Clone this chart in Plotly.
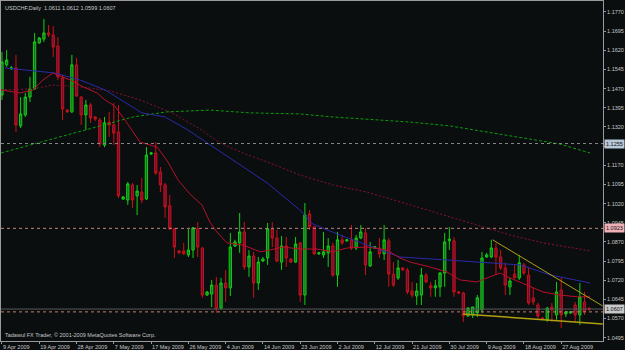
import plotly.graph_objects as go

# ---------------- data ----------------
bar_index = list(range(127))
opens = [1.1445,1.1563,1.1547,1.1551,1.1324,1.1367,1.1437,1.1469,1.1649,1.1664,
         1.1688,1.1680,1.1637,1.1512,1.1386,1.1379,1.1563,1.1437,1.1367,1.1406,
         1.1359,1.1347,1.1249,1.1339,1.1328,1.1300,1.1038,1.1034,1.1093,1.1050,
         1.1065,1.1038,1.1214,1.1218,1.1144,1.1093,1.1011,1.0921,1.0835,1.0835,
         1.0819,1.0838,1.0921,1.0846,1.0662,1.0666,1.0701,1.0611,1.0709,1.0690,
         1.0854,1.0866,1.0909,1.0772,1.0815,1.0709,1.0795,1.0807,1.0921,1.0885,
         1.0791,1.0854,1.0803,1.0791,1.0866,1.0662,1.0979,1.0929,1.0823,1.0819,
         1.0827,1.0854,1.0740,1.0878,1.0874,1.0878,1.0846,1.0885,1.0905,1.0776,
         1.0846,1.0846,1.0823,1.0874,1.0744,1.0729,1.0768,1.0760,1.0678,1.0658,
         1.0662,1.0740,1.0698,1.0690,1.0694,1.0748,1.0874,1.0874,1.0674,1.0670,
         1.0580,1.0584,1.0592,1.0604,1.0811,1.0811,1.0846,1.0811,1.0768,1.0694,
         1.0744,1.0729,1.0780,1.0740,1.0651,1.0623,1.0572,1.0565,1.0615,1.0584,
         1.0682,1.0588,1.0592,1.0623,1.0584,1.0635,1.0611]
highs = [1.1613,1.1621,1.1559,1.1602,1.1437,1.1453,1.1516,1.1688,1.1672,1.1743,
         1.1719,1.1715,1.1672,1.1523,1.1390,1.1602,1.1590,1.1441,1.1426,1.1414,
         1.1363,1.1355,1.1359,1.1379,1.1414,1.1406,1.1050,1.1105,1.1101,1.1093,
         1.1120,1.1241,1.1222,1.1261,1.1163,1.1101,1.1054,1.0925,1.0838,1.0866,
         1.0921,1.0928,1.0948,1.0850,1.0678,1.0721,1.0733,1.0729,1.0760,1.0905,
         1.0878,1.0983,1.0948,1.0838,1.0831,1.0811,1.0811,1.0944,1.0948,1.0917,
         1.0893,1.0889,1.0807,1.0889,1.0870,1.1022,1.0995,1.0932,1.0831,1.0909,
         1.0885,1.0866,1.0909,1.0897,1.0881,1.0936,1.0897,1.0936,1.0925,1.0870,
         1.0854,1.0885,1.0936,1.0885,1.0791,1.0799,1.0772,1.0768,1.0713,1.0709,
         1.0768,1.0748,1.0713,1.0721,1.0752,1.0905,1.0928,1.0889,1.0678,1.0674,
         1.0615,1.0615,1.0662,1.0831,1.0827,1.0878,1.0866,1.0838,1.0788,1.0729,
         1.0780,1.0819,1.0788,1.0772,1.0690,1.0631,1.0576,1.0615,1.0631,1.0713,
         1.0729,1.0600,1.0600,1.0635,1.0709,1.0674,1.0612]
lows = [1.1426,1.1555,1.1543,1.1300,1.1316,1.1359,1.1418,1.1465,1.1645,1.1653,
        1.1672,1.1594,1.1504,1.1347,1.1375,1.1375,1.1437,1.1328,1.1308,1.1336,
        1.1343,1.1241,1.1241,1.1281,1.1249,1.1042,1.1034,1.1015,1.1003,1.0975,
        1.1022,1.1034,1.1210,1.1132,1.1065,1.0964,1.0917,1.0807,1.0823,1.0819,
        1.0811,1.0807,1.0811,1.0651,1.0658,1.0615,1.0592,1.0604,1.0635,1.0658,
        1.0850,1.0827,1.0760,1.0733,1.0651,1.0682,1.0791,1.0780,1.0850,1.0791,
        1.0760,1.0772,1.0788,1.0788,1.0635,1.0623,1.0917,1.0819,1.0819,1.0807,
        1.0772,1.0733,1.0694,1.0858,1.0870,1.0838,1.0838,1.0881,1.0740,1.0772,
        1.0842,1.0807,1.0799,1.0694,1.0694,1.0721,1.0756,1.0666,1.0651,1.0623,
        1.0623,1.0709,1.0655,1.0655,1.0655,1.0694,1.0838,1.0655,1.0666,1.0557,
        1.0576,1.0572,1.0576,1.0592,1.0807,1.0807,1.0740,1.0760,1.0662,1.0662,
        1.0729,1.0721,1.0740,1.0623,1.0623,1.0565,1.0565,1.0557,1.0557,1.0565,
        1.0533,1.0576,1.0588,1.0557,1.0545,1.0584,1.0599]
closes = [1.1574,1.1582,1.1551,1.1328,1.1371,1.1437,1.1469,1.1653,1.1668,1.1688,
          1.1680,1.1633,1.1516,1.1390,1.1379,1.1563,1.1441,1.1367,1.1406,1.1355,
          1.1351,1.1253,1.1336,1.1328,1.1296,1.1050,1.1046,1.1097,1.1034,1.1069,
          1.1034,1.1210,1.1218,1.1140,1.1093,1.1007,1.0921,1.0850,1.0827,1.0823,
          1.0838,1.0925,1.0850,1.0662,1.0674,1.0701,1.0608,1.0709,1.0690,1.0850,
          1.0870,1.0909,1.0772,1.0815,1.0709,1.0791,1.0803,1.0921,1.0885,1.0795,
          1.0854,1.0807,1.0791,1.0862,1.0662,1.0975,1.0929,1.0823,1.0827,1.0831,
          1.0854,1.0740,1.0878,1.0866,1.0878,1.0846,1.0885,1.0909,1.0780,1.0831,
          1.0850,1.0823,1.0878,1.0744,1.0701,1.0768,1.0760,1.0674,1.0662,1.0678,
          1.0740,1.0713,1.0690,1.0698,1.0748,1.0870,1.0881,1.0674,1.0670,1.0580,
          1.0611,1.0615,1.0651,1.0807,1.0819,1.0846,1.0811,1.0768,1.0701,1.0717,
          1.0729,1.0788,1.0748,1.0631,1.0635,1.0580,1.0568,1.0611,1.0604,1.0674,
          1.0584,1.0596,1.0596,1.0584,1.0655,1.0596,1.0607]

# moving averages (bar position, price)
ma_fast_x = [-0.2,2.1,3.9,6.7,8.8,10.9,12.4,14.6,17.4,20.4,22.1,24.2,26.4,29.6,33.3,35.6,37.8,40.3,
             42.9,44.6,46.1,48.3,51.7,55.4,57.5,60.3,63.9,67.6,71.0,74.0,78.3,82.6,85.4,87.6,91.8,
             95.5,98.3,101.9,104.1,106.9,109.0,112.7,116.1,119.7,123.4,126.2]
ma_fast_y = [1.1465,1.1457,1.1453,1.1465,1.1504,1.1531,1.1520,1.1504,1.1477,1.1453,1.1426,1.1402,
             1.1347,1.1261,1.1241,1.1183,1.1112,1.1058,1.1015,1.0948,1.0909,1.0866,1.0858,1.0831,
             1.0838,1.0850,1.0842,1.0842,1.0831,1.0846,1.0850,1.0838,1.0807,1.0791,1.0772,1.0752,
             1.0721,1.0713,1.0729,1.0748,1.0729,1.0701,1.0674,1.0662,1.0655,1.0655]
ma_mid_x = [0.6,11.4,16.7,22.1,30.0,35.0,39.9,45.7,49.6,56.9,63.9,66.7,72.5,78.3,85.4,95.5,
            104.1,111.2,117.6,126.2]
ma_mid_y = [1.1551,1.1531,1.1504,1.1465,1.1375,1.1359,1.1308,1.1238,1.1191,1.1101,1.0995,1.0940,
            1.0897,1.0858,1.0811,1.0799,1.0788,1.0780,1.0741,1.0709]
ma_slow_x = [-0.2,6.7,10.9,16.7,23.2,29.6,36.5,42.5,46.8,51.7,56.9,63.9,71.0,78.3,87.6,96.1,
             101.9,109.0,116.1,126.2]
ma_slow_y = [1.1465,1.1469,1.1484,1.1477,1.1461,1.1426,1.1375,1.1312,1.1257,1.1218,1.1183,1.1132,
             1.1093,1.1065,1.1015,1.0968,1.0936,1.0897,1.0866,1.0835]
ma_long_x = [-0.2,6.7,14.0,21.0,28.1,35.4,44.6,53.2,63.9,71.0,78.3,87.6,96.1,105.4,114.8,119.7,126.2]
ma_long_y = [1.1218,1.1253,1.1289,1.1324,1.1359,1.1379,1.1386,1.1375,1.1371,1.1359,1.1351,1.1339,
             1.1324,1.1296,1.1269,1.1253,1.1218]

# trend lines (start/end bar position, price)
trend_upper_x = [105.3, 128.9]
trend_upper_y = [1.0878, 1.0619]
trend_lower_x = [98.9, 128.9]
trend_lower_y = [1.0588, 1.0549]

# horizontal levels
level_gray = 1.1255
level_pink = 1.0923
level_salmon = 1.0596
bid_level = 1.0607

date_ticks = [0, 8, 16, 24, 32, 40, 48, 56, 64, 72, 80, 88, 96, 104, 112, 120]
date_labels = ["9 Apr 2009", "19 Apr 2009", "28 Apr 2009", "7 May 2009", "17 May 2009",
               "26 May 2009", "4 Jun 2009", "14 Jun 2009", "23 Jun 2009", "2 Jul 2009",
               "12 Jul 2009", "21 Jul 2009", "30 Jul 2009", "9 Aug 2009", "18 Aug 2009",
               "27 Aug 2009"]
price_ticks = [1.0495, 1.0570, 1.0645, 1.0720, 1.0795, 1.0870, 1.0945, 1.1020, 1.1095, 1.1170,
               1.1245, 1.1320, 1.1395, 1.1470, 1.1545, 1.1620, 1.1695, 1.1770]
# 1.1245 sits under the highlighted level label, as in the original
price_labels = ["" if abs(v - 1.1245) < 1e-6 else "%.4f" % v for v in price_ticks]

title_text = "USDCHF,Daily  1.0611 1.0612 1.0599 1.0607"
copyright_text = "Tadawul FX Trader, © 2001-2009 MetaQuotes Software Corp."

# ---------------- figure ----------------
BG = "#0a0e0f"
TXT = "#c8c8c8"
AX = "#9a9a9a"
FONT = "Liberation Sans"

fig = go.Figure()

fig.add_trace(go.Scatter(x=ma_long_x, y=ma_long_y, mode="lines",
                         line=dict(color="#0c9a0c", width=1, dash="3px,2px"), hoverinfo="skip"))
fig.add_trace(go.Scatter(x=ma_slow_x, y=ma_slow_y, mode="lines",
                         line=dict(color="#8a1030", width=1, dash="2px,2px"), hoverinfo="skip"))
fig.add_trace(go.Scatter(x=ma_mid_x, y=ma_mid_y, mode="lines",
                         line=dict(color="#2a2aa8", width=1), hoverinfo="skip"))
fig.add_trace(go.Scatter(x=ma_fast_x, y=ma_fast_y, mode="lines",
                         line=dict(color="#b8102a", width=1), hoverinfo="skip"))

fig.add_trace(go.Candlestick(
    x=bar_index, open=opens, high=highs, low=lows, close=closes,
    increasing=dict(line=dict(color="#10d010", width=1), fillcolor="#1f6a2a"),
    decreasing=dict(line=dict(color="#cc1018", width=1), fillcolor="#6a1038"),
    whiskerwidth=0, hoverinfo="skip"))

fig.add_trace(go.Scatter(x=trend_upper_x, y=trend_upper_y, mode="lines",
                         line=dict(color="#b0a010", width=1), hoverinfo="skip"))
fig.add_trace(go.Scatter(x=trend_lower_x, y=trend_lower_y, mode="lines",
                         line=dict(color="#b0a010", width=1.5), hoverinfo="skip"))

fig.add_hline(y=level_gray, line=dict(color="#8a8a8a", width=1, dash="3px,3px"))
fig.add_hline(y=level_pink, line=dict(color="#c08080", width=1, dash="3px,3px"))
fig.add_hline(y=bid_level, line=dict(color="#5a5a5a", width=1))
fig.add_hline(y=level_salmon, line=dict(color="#c08070", width=1, dash="3px,3px"))

# right-side highlighted price labels
for lvl, bg in [(level_gray, "#b8c8d8"), (level_pink, "#f0b0b8"), (bid_level, "#c8c8c8")]:
    fig.add_annotation(x=1, xref="paper", xanchor="left", xshift=1, y=lvl, yref="y",
                       text="%.4f" % lvl, showarrow=False, bgcolor=bg, borderpad=1,
                       font=dict(family=FONT, size=5.5, color="#101010"))

fig.add_annotation(x=0, xref="paper", xanchor="left", xshift=2, y=1, yref="paper",
                   yanchor="top", yshift=-2, text=title_text, showarrow=False,
                   font=dict(family=FONT, size=5.5, color=TXT))
fig.add_annotation(x=0, xref="paper", xanchor="left", xshift=2, y=0, yref="paper",
                   yanchor="bottom", yshift=1, text=copyright_text, showarrow=False,
                   font=dict(family=FONT, size=5.5, color=TXT))

fig.update_layout(
    width=625, height=350,
    margin=dict(l=1, r=22, t=1, b=9, autoexpand=False),
    paper_bgcolor=BG, plot_bgcolor=BG,
    showlegend=False,
    xaxis=dict(range=[-0.21, 128.97], rangeslider=dict(visible=False),
               tickmode="array", tickvals=date_ticks, ticktext=date_labels,
               tickangle=0, automargin=False,
               ticks="outside", ticklen=2, tickcolor=AX,
               ticklabelposition="outside right",
               tickfont=dict(family=FONT, size=5.5, color=TXT),
               showgrid=False, zeroline=False,
               showline=True, linecolor=AX, linewidth=1, mirror=True),
    yaxis=dict(range=[1.0482, 1.1813], side="right", automargin=False,
               tickmode="array", tickvals=price_ticks, ticktext=price_labels,
               ticks="outside", ticklen=2, tickcolor=AX,
               tickfont=dict(family=FONT, size=5.5, color=TXT),
               showgrid=False, zeroline=False,
               showline=True, linecolor=AX, linewidth=1, mirror=True),
)

fig.write_html("out.html")
